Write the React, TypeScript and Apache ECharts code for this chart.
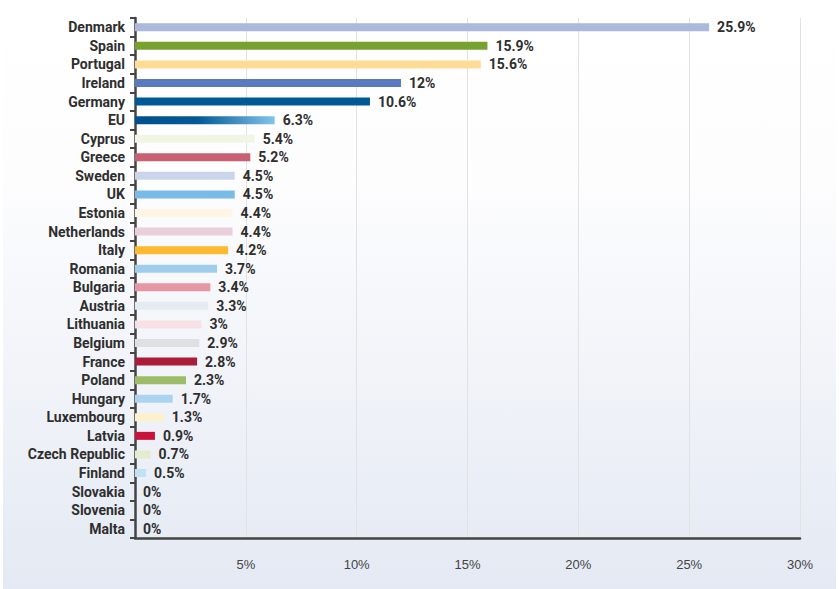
import React, { useEffect, useRef } from "react";
import * as echarts from "echarts";

const categories = [
  "Denmark", "Spain", "Portugal", "Ireland", "Germany", "EU", "Cyprus", "Greece",
  "Sweden", "UK", "Estonia", "Netherlands", "Italy", "Romania", "Bulgaria", "Austria",
  "Lithuania", "Belgium", "France", "Poland", "Hungary", "Luxembourg", "Latvia",
  "Czech Republic", "Finland", "Slovakia", "Slovenia", "Malta",
];

const values = [
  25.9, 15.9, 15.6, 12, 10.6, 6.3, 5.4, 5.2, 4.5, 4.5, 4.4, 4.4, 4.2, 3.7, 3.4, 3.3,
  3, 2.9, 2.8, 2.3, 1.7, 1.3, 0.9, 0.7, 0.5, 0, 0, 0,
];

const barColors = [
  "#aab9dc", "#78a22f", "#fedc96", "#5a7abf", "#005a96", "EU", "#f0f5e6", "#c85f73",
  "#cbd5ea", "#78bbe7", "#fff5e4", "#e9d0d8", "#fdb92f", "#a0cdec", "#e597a3", "#e4ebf2",
  "#f7e1e7", "#e0e0e2", "#aa1c37", "#9cbc6a", "#acd3f0", "#fff0cc", "#c8143c", "#e4ecd0",
  "#c3e1f5", "#dddddd", "#dddddd", "#dddddd",
];

const xTicks = [0, 5, 10, 15, 20, 25, 30];

const FONT = "Roboto, 'Liberation Sans', sans-serif";

export default function App() {
  const ref = useRef<HTMLDivElement>(null);

  useEffect(() => {
    if (!ref.current) return;
    const chart = echarts.init(ref.current, null, { renderer: "svg" });
    const euGradient = new echarts.graphic.LinearGradient(0, 0, 1, 0, [
      { offset: 0, color: "#00508c" },
      { offset: 0.45, color: "#005a96" },
      { offset: 1, color: "#82c4ea" },
    ]);
    const data = values.map((v, i) => ({
      value: v,
      itemStyle: { color: barColors[i] === "EU" ? euGradient : barColors[i] },
    }));
    chart.setOption({
      animation: false,
      backgroundColor: "#ffffff",
      graphic: {
        elements: [
          {
            type: "rect",
            left: 3,
            top: 0,
            z: -100,
            silent: true,
            shape: { width: 833, height: 589 },
            style: {
              fill: new echarts.graphic.LinearGradient(0, 0, 0, 1, [
                { offset: 0, color: "#ffffff" },
                { offset: 0.3, color: "#fdfdfe" },
                { offset: 1, color: "#e4e9f3" },
              ]),
            },
          },
        ],
      },
      grid: { left: 135, right: 39, top: 18, bottom: 51, containLabel: false },
      xAxis: {
        type: "value",
        min: xTicks[0],
        max: xTicks[xTicks.length - 1],
        interval: 5,
        axisLine: { show: true, lineStyle: { color: "#444444", width: 2.5 } },
        axisTick: { show: false },
        splitLine: { show: true, lineStyle: { color: "#e2e2e2", width: 1 } },
        axisLabel: {
          margin: 20,
          color: "#444444",
          fontSize: 13,
          fontFamily: "'Liberation Sans', Arial, sans-serif",
          formatter: (v: number) => (v === 0 ? "" : `${v}%`),
        },
      },
      yAxis: {
        type: "category",
        data: categories,
        inverse: true,
        axisLine: { show: true, lineStyle: { color: "#444444", width: 2.5 } },
        axisTick: { show: true, length: 5, lineStyle: { color: "#444444", width: 2 } },
        axisLabel: {
          margin: 10,
          color: "#2e2e2e",
          fontSize: 14,
          fontWeight: "bold",
          fontFamily: FONT,
        },
      },
      series: [
        {
          type: "bar",
          data,
          barWidth: 8,
          label: {
            show: true,
            position: "right",
            distance: 8,
            color: "#2e2e2e",
            fontSize: 14,
            fontWeight: "bold",
            fontFamily: FONT,
            formatter: (p: any) => `${p.value}%`,
          },
        },
      ],
    });
    return () => chart.dispose();
  }, []);

  return (
    <div
      ref={ref}
      style={{ position: "absolute", left: 0, top: 0, width: 839, height: 589 }}
    />
  );
}
